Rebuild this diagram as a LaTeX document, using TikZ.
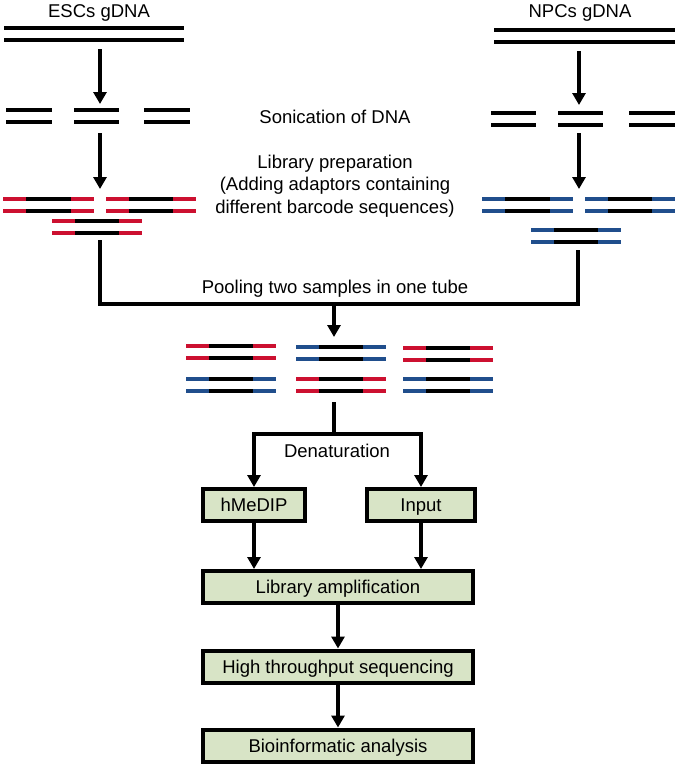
\documentclass[tikz,border=0pt]{standalone}
\usepackage{fontspec}
\setmainfont{Liberation Sans}
\usetikzlibrary{arrows.meta}
\definecolor{adred}{RGB}{204,16,48}
\definecolor{adblue}{RGB}{32,78,140}
\definecolor{boxgreen}{RGB}{216,228,198}
\tikzstyle{steptext} = [font=\fontsize{18.5}{22.5}\selectfont, align=center, inner sep=0]
\tikzstyle{stepbox} = [draw, line width=4pt, fill=boxgreen, text centered, minimum height=32pt, inner sep=0, text height=15pt, text depth=1.8pt, font=\fontsize{18.5}{22.5}\selectfont]
\tikzstyle{line} = [draw, line width=4pt, -{Triangle[width=13pt,length=12pt]}]
\tikzstyle{wire} = [draw, line width=4pt]
\tikzstyle{strand} = [line width=4pt]
% one strand with coloured adaptor ends: left x, right x, y, colour
\newcommand{\onestrand}[4]{%
  \draw[strand,#4] (#1,#3) -- (#1+23,#3);
  \draw[strand] (#1+23,#3) -- (#2-23,#3);
  \draw[strand,#4] (#2-23,#3) -- (#2,#3);}
\newcommand{\duplex}[4]{\onestrand{#1}{#2}{#3}{#4}\onestrand{#1}{#2}{#3+11.5}{#4}}
\newcommand{\plainduplex}[3]{\draw[strand] (#1,#3) -- (#2,#3) (#1,#3+11.5) -- (#2,#3+11.5);}

\begin{document}
\begin{tikzpicture}[x=1pt, y=-1pt]
    \useasboundingbox (0,0) rectangle (683,769);

    % Place nodes
    \node [steptext] (esc-title) at (99,13) {ESCs gDNA};
    \node [steptext] (npc-title) at (580,13) {NPCs gDNA};
    \node [steptext] (sonication) at (335,117) {Sonication of DNA};
    \node [steptext] (libprep) at (335,186) {Library preparation\\(Adding adaptors containing\\different barcode sequences)};
    \node [steptext] (pooling) at (335,289) {Pooling two samples in one tube};
    \node [steptext] (denature) at (337,451) {Denaturation};
    \node [stepbox, minimum width=102pt] (hmedip) at (254,505) {hMeDIP};
    \node [stepbox, minimum width=108pt] (input) at (421,505) {Input};
    \node [stepbox, minimum width=270pt] (libamp) at (338,587) {Library amplification};
    \node [stepbox, minimum width=270pt] (hts) at (338,666.5) {High throughput sequencing};
    \node [stepbox, minimum width=270pt] (bioinfo) at (338,745.5) {Bioinformatic analysis};

    % DNA strands
    \plainduplex{4}{184}{28}
    \plainduplex{494}{675}{30}
    \plainduplex{6}{52}{110}
    \plainduplex{74}{119}{110}
    \plainduplex{144}{190}{110}
    \plainduplex{491}{536}{113}
    \plainduplex{558}{603}{113}
    \plainduplex{629}{675}{113}
    \duplex{3}{94}{199}{adred}
    \duplex{106}{196}{199}{adred}
    \duplex{52}{142}{221}{adred}
    \duplex{482}{573}{199}{adblue}
    \duplex{585}{675}{199}{adblue}
    \duplex{531}{621}{230}{adblue}
    \duplex{186}{276}{346}{adred}
    \duplex{186}{276}{379}{adblue}
    \duplex{296}{386}{347}{adblue}
    \duplex{296}{386}{379}{adred}
    \duplex{403}{493}{348}{adred}
    \duplex{403}{493}{379}{adblue}

    % Helper coordinates
    \coordinate (esc-a) at (100,49);
    \coordinate (esc-b) at (100,104);
    \coordinate (esc-c) at (100,133);
    \coordinate (esc-d) at (100,189);
    \coordinate (npc-a) at (579,51);
    \coordinate (npc-b) at (579,105);
    \coordinate (npc-c) at (579,133);
    \coordinate (npc-d) at (579,189);
    \coordinate (esc-out) at (100,240);
    \coordinate (npc-out) at (578,250);
    \coordinate (merge) at (334,304);
    \coordinate (pool-in) at (334,337);
    \coordinate (pool-out) at (334,402);
    \coordinate (split) at (334,434);

    % Draw edges
    \path [line] (esc-a) -- (esc-b);
    \path [line] (esc-c) -- (esc-d);
    \path [line] (npc-a) -- (npc-b);
    \path [line] (npc-c) -- (npc-d);
    \path [wire] (esc-out) |- (merge);
    \path [wire] (npc-out) |- (merge);
    \path [line] (merge) -- (pool-in);
    \path [wire] (pool-out) -- (split);
    \path [line] (split) -| (hmedip.north);
    \path [line] (split) -| (input.north);
    \path [line] (hmedip.south) -- (hmedip.south |- libamp.north);
    \path [line] (input.south) -- (input.south |- libamp.north);
    \path [line] (libamp) -- (hts);
    \path [line] (hts) -- (bioinfo);
\end{tikzpicture}
\end{document}
